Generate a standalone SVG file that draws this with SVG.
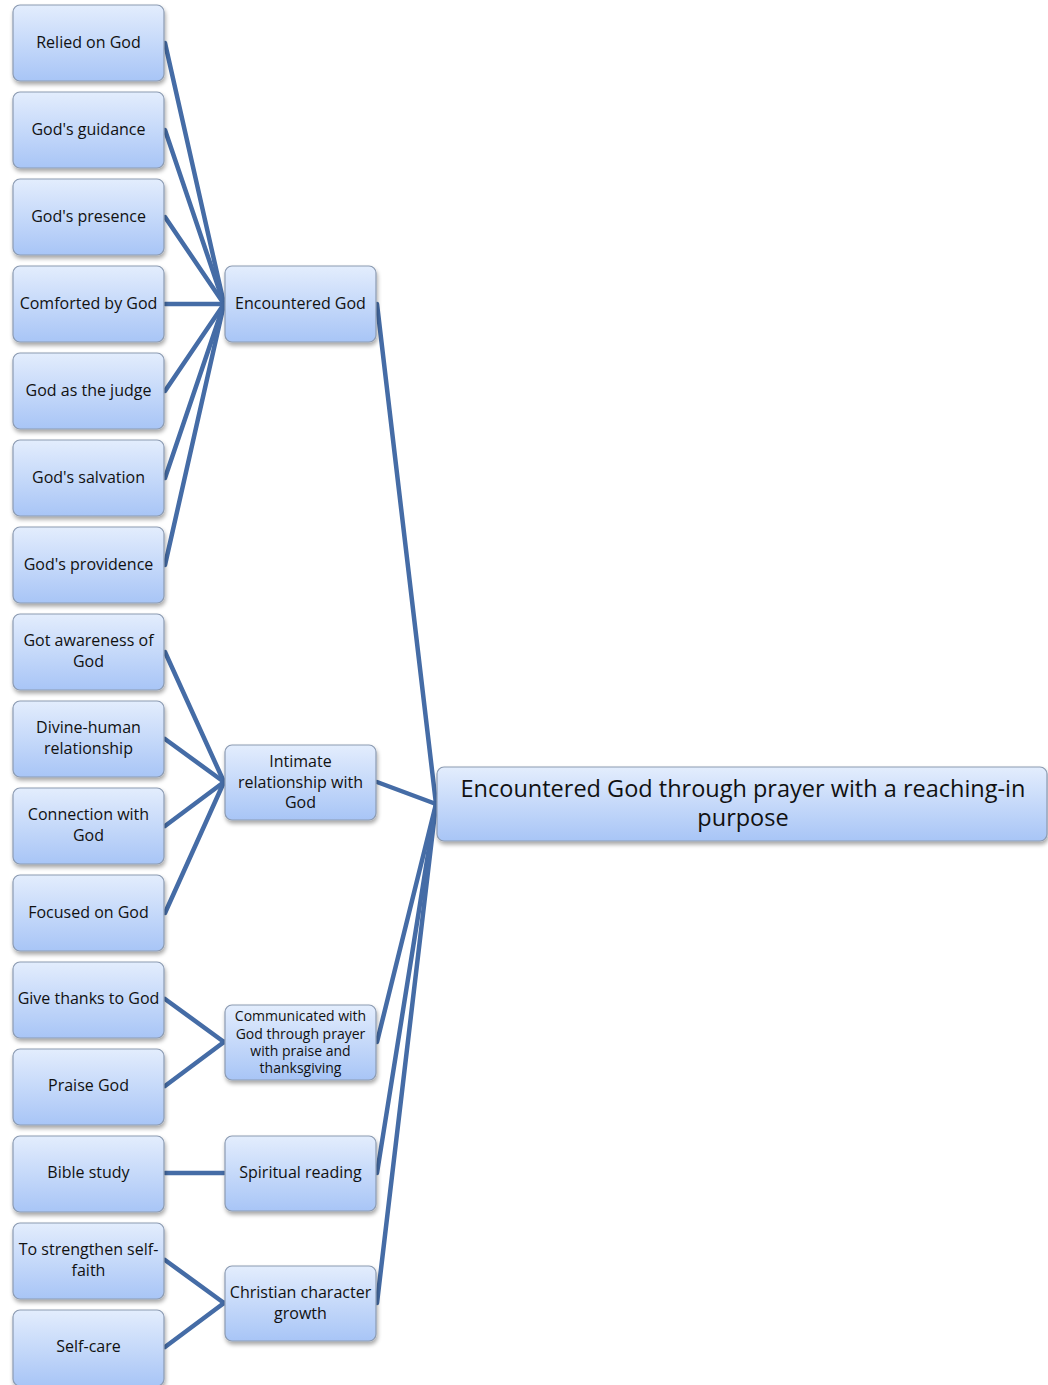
<svg xmlns="http://www.w3.org/2000/svg" width="1048" height="1385" viewBox="0 0 1048 1385">
  <defs>
    <linearGradient id="boxFill" x1="0" y1="0" x2="0" y2="1">
      <stop offset="0" stop-color="#e3edfd"/>
      <stop offset="1" stop-color="#a8c5f6"/>
    </linearGradient>
    <filter id="shadow" x="-10%" y="-10%" width="120%" height="130%">
      <feGaussianBlur in="SourceAlpha" stdDeviation="2"/>
      <feOffset dx="1" dy="3" result="b"/>
      <feComponentTransfer><feFuncA type="linear" slope="0.35"/></feComponentTransfer>
      <feMerge><feMergeNode/><feMergeNode in="SourceGraphic"/></feMerge>
    </filter>
  </defs>
  <style>
    .box { fill: url(#boxFill); stroke: #8c9bb2; stroke-width: 1.2; filter: url(#shadow); }
    .lbl { font-family: "Open Sans", "Noto Sans", sans-serif; font-size: 16px; fill: #111; text-anchor: middle; }
    .sm { font-size: 14px; }
    .big { font-size: 23.5px; }
    .edge { stroke: #456ca6; stroke-width: 4.5; fill: none; stroke-linecap: round; }
  </style>
  <rect width="1048" height="1385" fill="#ffffff"/>

  <g id="connectors">
    <!-- leaves to Encountered God -->
    <line class="edge" x1="165" y1="43" x2="224" y2="304"/>
    <line class="edge" x1="165" y1="130" x2="224" y2="304"/>
    <line class="edge" x1="165" y1="217" x2="224" y2="304"/>
    <line class="edge" x1="165" y1="304" x2="224" y2="304"/>
    <line class="edge" x1="165" y1="391" x2="224" y2="304"/>
    <line class="edge" x1="165" y1="478" x2="224" y2="304"/>
    <line class="edge" x1="165" y1="565" x2="224" y2="304"/>
    <!-- leaves to Intimate relationship -->
    <line class="edge" x1="165" y1="652" x2="224" y2="782"/>
    <line class="edge" x1="165" y1="739" x2="224" y2="782"/>
    <line class="edge" x1="165" y1="826" x2="224" y2="782"/>
    <line class="edge" x1="165" y1="913" x2="224" y2="782"/>
    <!-- leaves to Communicated -->
    <line class="edge" x1="165" y1="999" x2="224" y2="1042"/>
    <line class="edge" x1="165" y1="1086" x2="224" y2="1042"/>
    <!-- Bible study to Spiritual reading -->
    <line class="edge" x1="165" y1="1173" x2="224" y2="1173"/>
    <!-- leaves to Christian character growth -->
    <line class="edge" x1="165" y1="1260" x2="224" y2="1303"/>
    <line class="edge" x1="165" y1="1347" x2="224" y2="1303"/>
    <!-- categories to root -->
    <line class="edge" x1="377" y1="304" x2="436" y2="804"/>
    <line class="edge" x1="377" y1="782" x2="436" y2="804"/>
    <line class="edge" x1="377" y1="1042" x2="436" y2="804"/>
    <line class="edge" x1="377" y1="1173" x2="436" y2="804"/>
    <line class="edge" x1="377" y1="1303" x2="436" y2="804"/>
  </g>

  <g id="n-relied"><rect class="box" x="13" y="5" width="151" height="76" rx="7"/><text class="lbl" x="88.5" y="48">Relied on God</text></g>
  <g id="n-guidance"><rect class="box" x="13" y="92" width="151" height="76" rx="7"/><text class="lbl" x="88.5" y="135">God's guidance</text></g>
  <g id="n-presence"><rect class="box" x="13" y="179" width="151" height="76" rx="7"/><text class="lbl" x="88.5" y="222">God's presence</text></g>
  <g id="n-comforted"><rect class="box" x="13" y="266" width="151" height="76" rx="7"/><text class="lbl" x="88.5" y="309">Comforted by God</text></g>
  <g id="n-judge"><rect class="box" x="13" y="353" width="151" height="76" rx="7"/><text class="lbl" x="88.5" y="396">God as the judge</text></g>
  <g id="n-salvation"><rect class="box" x="13" y="440" width="151" height="76" rx="7"/><text class="lbl" x="88.5" y="483">God's salvation</text></g>
  <g id="n-providence"><rect class="box" x="13" y="527" width="151" height="76" rx="7"/><text class="lbl" x="88.5" y="570">God's providence</text></g>
  <g id="n-awareness"><rect class="box" x="13" y="614" width="151" height="76" rx="7"/><text class="lbl" x="88.5" y="646">Got awareness of</text><text class="lbl" x="88.5" y="667">God</text></g>
  <g id="n-divine"><rect class="box" x="13" y="701" width="151" height="76" rx="7"/><text class="lbl" x="88.5" y="733">Divine-human</text><text class="lbl" x="88.5" y="754">relationship</text></g>
  <g id="n-connection"><rect class="box" x="13" y="788" width="151" height="76" rx="7"/><text class="lbl" x="88.5" y="820">Connection with</text><text class="lbl" x="88.5" y="841">God</text></g>
  <g id="n-focused"><rect class="box" x="13" y="875" width="151" height="76" rx="7"/><text class="lbl" x="88.5" y="918">Focused on God</text></g>
  <g id="n-thanks"><rect class="box" x="13" y="962" width="151" height="76" rx="7"/><text class="lbl" x="88.5" y="1004">Give thanks to God</text></g>
  <g id="n-praise"><rect class="box" x="13" y="1049" width="151" height="76" rx="7"/><text class="lbl" x="88.5" y="1091">Praise God</text></g>
  <g id="n-bible"><rect class="box" x="13" y="1136" width="151" height="76" rx="7"/><text class="lbl" x="88.5" y="1178">Bible study</text></g>
  <g id="n-strengthen"><rect class="box" x="13" y="1223" width="151" height="76" rx="7"/><text class="lbl" x="88.5" y="1255">To strengthen self-</text><text class="lbl" x="88.5" y="1276">faith</text></g>
  <g id="n-selfcare"><rect class="box" x="13" y="1310" width="151" height="76" rx="7"/><text class="lbl" x="88.5" y="1352">Self-care</text></g>

  <g id="c-encountered"><rect class="box" x="225" y="266" width="151" height="76" rx="7"/><text class="lbl" x="300.5" y="309">Encountered God</text></g>
  <g id="c-intimate"><rect class="box" x="225" y="745" width="151" height="75" rx="7"/><text class="lbl" x="300.5" y="767">Intimate</text><text class="lbl" x="300.5" y="788">relationship with</text><text class="lbl" x="300.5" y="808">God</text></g>
  <g id="c-communicated"><rect class="box" x="225" y="1005" width="151" height="75" rx="7"/><text class="lbl sm" x="300.5" y="1021">Communicated with</text><text class="lbl sm" x="300.5" y="1039">God through prayer</text><text class="lbl sm" x="300.5" y="1056">with praise and</text><text class="lbl sm" x="300.5" y="1073">thanksgiving</text></g>
  <g id="c-spiritual"><rect class="box" x="225" y="1136" width="151" height="75" rx="7"/><text class="lbl" x="300.5" y="1178">Spiritual reading</text></g>
  <g id="c-christian"><rect class="box" x="225" y="1266" width="151" height="75" rx="7"/><text class="lbl" x="300.5" y="1298">Christian character</text><text class="lbl" x="300.5" y="1319">growth</text></g>

  <g id="root"><rect class="box" x="437" y="767" width="610" height="74" rx="7"/><text class="lbl big" x="743" y="797">Encountered God through prayer with a reaching-in</text><text class="lbl big" x="743" y="826">purpose</text></g>
</svg>
